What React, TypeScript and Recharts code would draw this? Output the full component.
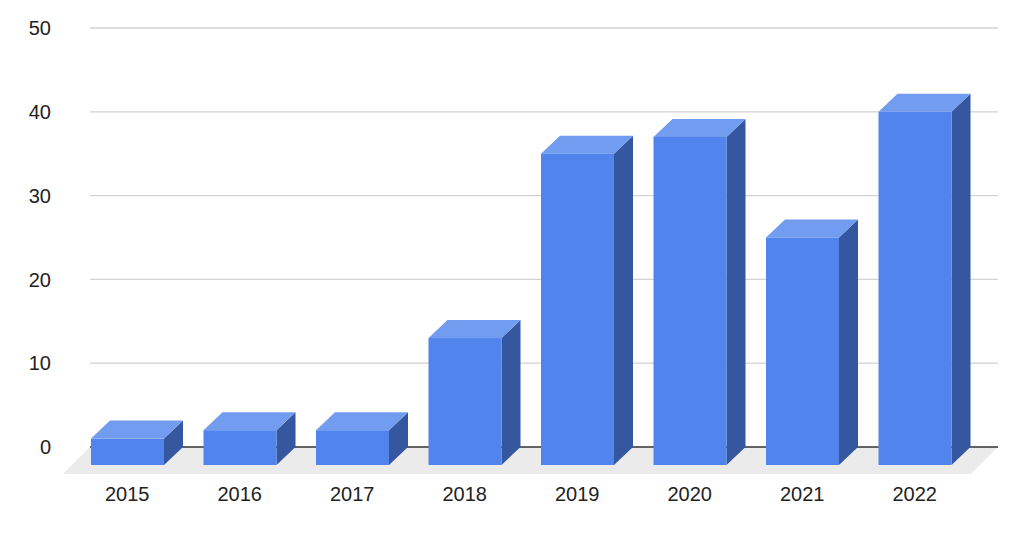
import { BarChart, Bar, XAxis, YAxis, CartesianGrid } from 'recharts';

const years = ['2015', '2016', '2017', '2018', '2019', '2020', '2021', '2022'];
const counts = [1, 2, 2, 13, 35, 37, 25, 40];
const yTicks = [0, 10, 20, 30, 40, 50];

const data = years.map((year, i) => ({ year, count: counts[i] }));

// 3D offsets: bar depth and floor depth
const DX = 19;
const DY = 18;
const FLOOR = 27;

const FRONT = '#5184ec';
const TOP = '#729cef';
const SIDE = '#35579f';

function Box3D(props: any) {
  const { x, y, width, height } = props;
  if (width == null || height == null) return null;
  const bottom = y + height;
  const r = x + width;
  return (
    <g>
      <polygon
        points={`${r},${y} ${r + DX},${y - DY} ${r + DX},${bottom} ${r},${bottom + DY}`}
        fill={SIDE}
      />
      <polygon
        points={`${x},${y} ${r},${y} ${r + DX},${y - DY} ${x + DX},${y - DY}`}
        fill={TOP}
      />
      <rect x={x} y={y} width={width} height={height + DY} fill={FRONT} />
    </g>
  );
}

function GridLine(props: any) {
  const { x1, x2, y1, index } = props;
  const left = x1 + DX;
  const right = x2 + FLOOR;
  if (index === 0) {
    return (
      <g key={`grid-${index}`}>
        <polygon
          points={`${x1 - 8},${y1 + FLOOR} ${x2},${y1 + FLOOR} ${right},${y1} ${left},${y1}`}
          fill="#ebebeb"
        />
        <line x1={left} x2={right} y1={y1} y2={y1} stroke="#333333" strokeWidth={1.5} />
      </g>
    );
  }
  return <line key={`grid-${index}`} x1={left} x2={right} y1={y1} y2={y1} stroke="#d2d2d2" strokeWidth={1.3} />;
}

export default function App() {
  const tickStyle = { fill: '#222222', fontSize: 20, fontFamily: '"Liberation Sans", Arial, sans-serif' };

  return (
    <div style={{ position: 'absolute', left: 0, top: 0, width: 1024, height: 533, background: '#ffffff' }}>
      <BarChart width={1024} height={533} data={data} margin={{ top: 28, right: 53, left: 0, bottom: 0 }}>
        <CartesianGrid vertical={false} horizontal={GridLine} />
        <XAxis
          dataKey="year"
          height={86}
          axisLine={false}
          tickLine={false}
          tickSize={0}
          tickMargin={40}
          tick={tickStyle}
          interval={0}
        />
        <YAxis
          width={71}
          domain={[0, 50]}
          ticks={yTicks}
          axisLine={false}
          tickLine={false}
          tickSize={0}
          tickMargin={20}
          tick={tickStyle}
        />
        <Bar dataKey="count" barSize={73} shape={Box3D} isAnimationActive={false} />
      </BarChart>
    </div>
  );
}
